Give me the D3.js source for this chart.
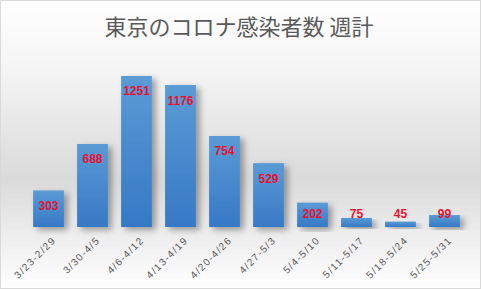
<!DOCTYPE html>
<html><head><meta charset="utf-8">
<script src="https://cdn.jsdelivr.net/npm/d3@7"></script>
<style>body{margin:0;background:#fff}svg{display:block}</style>
</head><body>
<script>
const categories = ["3/23-2/29","3/30-4/5","4/6-4/12","4/13-4/19","4/20-4/26","4/27-5/3","5/4-5/10","5/11-5/17","5/18-5/24","5/25-5/31"];
const values = [303,688,1251,1176,754,529,202,75,45,99];
const title = "東京のコロナ感染者数 週計";

const W=481,H=289;
const svg=d3.select("body").append("svg").attr("width",W).attr("height",H);
const defs=svg.append("defs");
const bg=defs.append("linearGradient").attr("id","bg").attr("x1",0).attr("y1",0).attr("x2",0).attr("y2",1);
bg.append("stop").attr("offset","0").attr("stop-color","#ffffff");
bg.append("stop").attr("offset","0.25").attr("stop-color","#f4f4f4");
bg.append("stop").attr("offset","0.62").attr("stop-color","#dadada");
bg.append("stop").attr("offset","1").attr("stop-color","#ffffff");
const bar=defs.append("linearGradient").attr("id","bar").attr("x1",0).attr("y1",0).attr("x2",0).attr("y2",1);
bar.append("stop").attr("offset","0").attr("stop-color","#5b9bd5");
bar.append("stop").attr("offset","1").attr("stop-color","#3679c6");
const f=defs.append("filter").attr("id","sh").attr("x","-20%").attr("y","-20%").attr("width","160%").attr("height","140%");
f.append("feGaussianBlur").attr("in","SourceAlpha").attr("stdDeviation",3);
f.append("feOffset").attr("dx",4).attr("dy",3).attr("result","b");
f.append("feComponentTransfer").append("feFuncA").attr("type","linear").attr("slope",0.35);
const m=f.append("feMerge");m.append("feMergeNode");m.append("feMergeNode").attr("in","SourceGraphic");

svg.append("rect").attr("x",0.5).attr("y",0.5).attr("width",W-1).attr("height",H-1).attr("fill","url(#bg)").attr("stroke","#d9d9d9");

svg.append("text").attr("x",239).attr("y",35).attr("text-anchor","middle")
  .attr("font-family","'Noto Sans CJK JP'").attr("font-size",22).attr("fill","#595959").text(title);

const x=d3.scaleBand().domain(categories).range([26.5,466.5]).paddingInner(0.3).paddingOuter(0.15);
const y=d3.scaleLinear().domain([0,1400]).range([227,58]);

const g=svg.append("g");
g.selectAll("rect.b").data(values).join("rect").attr("class","b")
  .attr("x",(d,i)=>x(categories[i])).attr("width",x.bandwidth())
  .attr("y",d=>y(d)).attr("height",d=>y(0)-y(d))
  .attr("fill","url(#bar)").attr("filter","url(#sh)");

g.selectAll("text.v").data(values).join("text").attr("class","v")
  .attr("x",(d,i)=>x(categories[i])+x.bandwidth()/2).attr("y",d=>Math.min(y(d)+19.5,218))
  .attr("text-anchor","middle").attr("font-family","'Liberation Sans',Arial").attr("font-weight","bold")
  .attr("font-size",12).attr("fill","#e8112d").text(d=>d);

const ax=svg.append("g").attr("transform","translate(0,227)").call(d3.axisBottom(x).tickSize(0).tickPadding(0));
ax.select(".domain").remove();
ax.selectAll("text").attr("font-family","'Liberation Sans',Arial").attr("font-size",10).attr("fill","#595959")
  .attr("letter-spacing",1.3)
  .attr("text-anchor","end").attr("dy",0).attr("transform","translate(8,14) rotate(-45)");
</script>
</body></html>
